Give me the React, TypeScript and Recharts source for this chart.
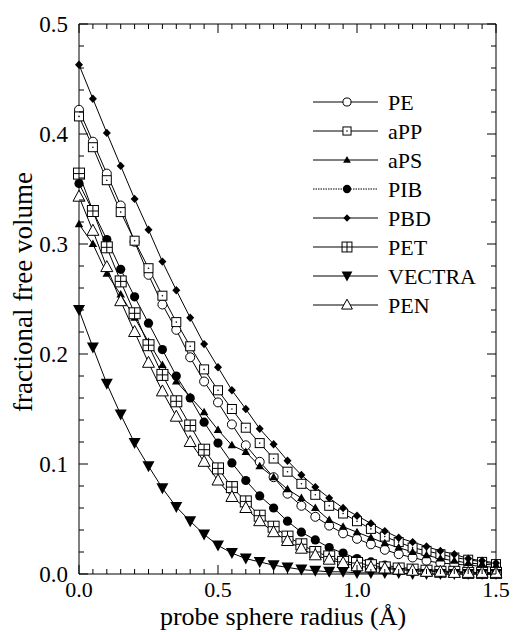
import React from 'react';
import { LineChart, Line, XAxis, YAxis } from 'recharts';

// probe sphere radius (Å)
const radius = [
  0, 0.05, 0.1, 0.15, 0.2, 0.25, 0.3, 0.35, 0.4, 0.45, 0.5, 0.55, 0.6, 0.65, 0.7, 0.75,
  0.8, 0.85, 0.9, 0.95, 1.0, 1.05, 1.1, 1.15, 1.2, 1.25, 1.3, 1.35, 1.4, 1.45, 1.5
];

// fractional free volume per polymer
const pe = [0.422, 0.393, 0.364, 0.335, 0.302, 0.272, 0.245, 0.222, 0.197, 0.175, 0.156, 0.136, 0.117, 0.102, 0.088, 0.073, 0.062, 0.052, 0.044, 0.037, 0.032, 0.027, 0.022, 0.018, 0.015, 0.012, 0.010, 0.009, 0.008, 0.007, 0.006];
const app = [0.416, 0.388, 0.358, 0.329, 0.303, 0.278, 0.253, 0.229, 0.207, 0.186, 0.167, 0.150, 0.133, 0.119, 0.105, 0.093, 0.082, 0.072, 0.062, 0.055, 0.048, 0.041, 0.034, 0.029, 0.024, 0.021, 0.018, 0.015, 0.013, 0.011, 0.009];
const aps = [0.318, 0.300, 0.273, 0.254, 0.233, 0.211, 0.190, 0.175, 0.161, 0.147, 0.131, 0.117, 0.111, 0.098, 0.088, 0.077, 0.069, 0.060, 0.049, 0.043, 0.038, 0.033, 0.028, 0.024, 0.020, 0.017, 0.014, 0.012, 0.010, 0.009, 0.008];
const pib = [0.355, 0.330, 0.304, 0.277, 0.252, 0.228, 0.204, 0.180, 0.160, 0.138, 0.119, 0.101, 0.085, 0.071, 0.060, 0.048, 0.038, 0.031, 0.024, 0.019, 0.014, 0.011, 0.008, 0.006, 0.005, 0.004, 0.003, 0.002, 0.002, 0.001, 0.001];
const pbd = [0.463, 0.432, 0.401, 0.371, 0.341, 0.313, 0.284, 0.258, 0.233, 0.209, 0.188, 0.167, 0.150, 0.132, 0.118, 0.103, 0.090, 0.079, 0.069, 0.060, 0.053, 0.046, 0.039, 0.033, 0.029, 0.025, 0.021, 0.018, 0.014, 0.012, 0.010];
const pet = [0.364, 0.330, 0.297, 0.266, 0.237, 0.208, 0.181, 0.157, 0.135, 0.113, 0.096, 0.079, 0.066, 0.053, 0.043, 0.034, 0.027, 0.020, 0.016, 0.011, 0.010, 0.008, 0.006, 0.005, 0.004, 0.003, 0.002, 0.002, 0.001, 0.001, 0.001];
const vectra = [0.240, 0.206, 0.173, 0.145, 0.119, 0.098, 0.078, 0.061, 0.048, 0.036, 0.026, 0.019, 0.014, 0.011, 0.008, 0.006, 0.004, 0.003, 0.002, 0.002, 0.001, 0.001, 0.001, 0.001, 0, 0, 0, 0, 0, 0, 0];
const pen = [0.343, 0.312, 0.279, 0.248, 0.220, 0.192, 0.166, 0.143, 0.120, 0.102, 0.085, 0.070, 0.060, 0.048, 0.038, 0.030, 0.023, 0.017, 0.013, 0.010, 0.007, 0.006, 0.005, 0.004, 0.003, 0.002, 0.002, 0.001, 0.001, 0.001, 0.001];

const seriesNames = ['PE', 'aPP', 'aPS', 'PIB', 'PBD', 'PET', 'VECTRA', 'PEN'];
const seriesValues = [pe, app, aps, pib, pbd, pet, vectra, pen];
const seriesMarkers = ['circle', 'squareDot', 'triSmall', 'disc', 'diamond', 'squarePlus', 'triDown', 'triOpen'];

const xTicks = [
  0, 0.05, 0.1, 0.15, 0.2, 0.25, 0.3, 0.35, 0.4, 0.45, 0.5, 0.55, 0.6, 0.65, 0.7, 0.75,
  0.8, 0.85, 0.9, 0.95, 1.0, 1.05, 1.1, 1.15, 1.2, 1.25, 1.3, 1.35, 1.4, 1.45, 1.5
];
const yTicks = [
  0, 0.02, 0.04, 0.06, 0.08, 0.1, 0.12, 0.14, 0.16, 0.18, 0.2, 0.22, 0.24, 0.26, 0.28,
  0.3, 0.32, 0.34, 0.36, 0.38, 0.4, 0.42, 0.44, 0.46, 0.48, 0.5
];
const xLabels = ['0.0', '0.5', '1.0', '1.5'];
const yLabels = ['0.0', '0.1', '0.2', '0.3', '0.4', '0.5'];

const data = radius.map((r, i) => {
  const row: any = { r };
  seriesNames.forEach((n, k) => (row[n] = seriesValues[k][i]));
  return row;
});

const FONT = '"Liberation Serif", "Times New Roman", serif';

function majorLabel(v: number, labels: string[]) {
  const s = v.toFixed(1);
  if (Math.abs(v - Number(s)) > 1e-9) return null;
  return labels.includes(s) ? s : null;
}

function Marker({ kind, cx, cy, s = 1 }: { kind: string; cx: number; cy: number; s?: number }) {
  const k = '#000';
  switch (kind) {
    case 'circle':
      return <circle cx={cx} cy={cy} r={4.5 * s} fill="#fff" stroke={k} strokeWidth={1} />;
    case 'squareDot':
      return (
        <g>
          <rect x={cx - 4.5 * s} y={cy - 4.5 * s} width={9 * s} height={9 * s} fill="#fff" stroke={k} strokeWidth={1} />
          <circle cx={cx} cy={cy} r={0.8} fill={k} />
        </g>
      );
    case 'triSmall':
      return <polygon points={`${cx},${cy - 4.5 * s} ${cx + 4.3 * s},${cy + 3 * s} ${cx - 4.3 * s},${cy + 3 * s}`} fill={k} />;
    case 'disc':
      return <circle cx={cx} cy={cy} r={4.6 * s} fill={k} />;
    case 'diamond':
      return <polygon points={`${cx},${cy - 4.2 * s} ${cx + 4 * s},${cy} ${cx},${cy + 4.2 * s} ${cx - 4 * s},${cy}`} fill={k} />;
    case 'squarePlus':
      return (
        <g>
          <rect x={cx - 5.5 * s} y={cy - 5.5 * s} width={11 * s} height={11 * s} fill="#fff" stroke={k} strokeWidth={1} />
          <line x1={cx} x2={cx} y1={cy - 5.5 * s} y2={cy + 5.5 * s} stroke={k} strokeWidth={1} />
          <line x1={cx - 5.5 * s} x2={cx + 5.5 * s} y1={cy} y2={cy} stroke={k} strokeWidth={1} />
        </g>
      );
    case 'triDown':
      return <polygon points={`${cx - 6 * s},${cy - 5 * s} ${cx + 6 * s},${cy - 5 * s} ${cx},${cy + 6 * s}`} fill={k} />;
    default:
      return (
        <polygon
          points={`${cx},${cy - 6.5 * s} ${cx + 6 * s},${cy + 4.5 * s} ${cx - 6 * s},${cy + 4.5 * s}`}
          fill="#fff"
          stroke={k}
          strokeWidth={1}
        />
      );
  }
}

function BottomTick(props: any) {
  const { x, y, payload } = props;
  const label = majorLabel(payload.value, xLabels);
  return (
    <g>
      <line x1={x} x2={x} y1={y} y2={y - (label ? 9 : 5)} stroke="#000" />
      {label && (
        <text x={x} y={y + 23} textAnchor="middle" fontSize={22} fontFamily={FONT} fill="#000">
          {label}
        </text>
      )}
    </g>
  );
}

function TopTick(props: any) {
  const { x, y, payload } = props;
  const label = majorLabel(payload.value, xLabels);
  return <line x1={x} x2={x} y1={y} y2={y + (label ? 9 : 5)} stroke="#000" />;
}

function LeftTick(props: any) {
  const { x, y, payload } = props;
  const label = majorLabel(payload.value, yLabels);
  return (
    <g>
      <line x1={x} x2={x + (label ? 9 : 5)} y1={y} y2={y} stroke="#000" />
      {label && (
        <text x={x - 11} y={y} dy="0.36em" textAnchor="end" fontSize={23} fontFamily={FONT} fill="#000">
          {label}
        </text>
      )}
    </g>
  );
}

function RightTick(props: any) {
  const { x, y, payload } = props;
  const label = majorLabel(payload.value, yLabels);
  return <line x1={x} x2={x - (label ? 9 : 5)} y1={y} y2={y} stroke="#000" />;
}

export default function App() {
  const axisLine = { stroke: '#000', strokeWidth: 1 };
  return (
    <div style={{ position: 'absolute', left: 0, top: 0, width: 516, height: 632, background: '#fff' }}>
      <LineChart width={516} height={632} data={data} margin={{ top: 0, right: 0, bottom: 0, left: 0 }}>
        <XAxis
          xAxisId="bottom"
          dataKey="r"
          type="number"
          domain={[0, 1.5]}
          ticks={xTicks}
          interval={0}
          height={58}
          tickSize={0}
          tickMargin={0}
          tickLine={false}
          axisLine={axisLine}
          tick={BottomTick}
        />
        <XAxis
          xAxisId="top"
          orientation="top"
          dataKey="r"
          type="number"
          domain={[0, 1.5]}
          allowDataOverflow
          ticks={xTicks}
          interval={0}
          height={24}
          tickSize={0}
          tickMargin={0}
          tickLine={false}
          axisLine={axisLine}
          tick={TopTick}
        />
        <YAxis
          yAxisId="left"
          type="number"
          domain={[0, 0.5]}
          ticks={yTicks}
          interval={0}
          width={79}
          tickSize={0}
          tickMargin={0}
          tickLine={false}
          axisLine={axisLine}
          tick={LeftTick}
        />
        <YAxis
          yAxisId="right"
          orientation="right"
          type="number"
          domain={[0, 0.5]}
          allowDataOverflow
          ticks={yTicks}
          interval={0}
          width={20}
          tickSize={0}
          tickMargin={0}
          tickLine={false}
          axisLine={axisLine}
          tick={RightTick}
        />
        {seriesNames.map((n, k) => (
          <Line
            key={n}
            xAxisId="bottom"
            yAxisId="left"
            dataKey={n}
            type="linear"
            stroke="#000"
            strokeWidth={1}
            isAnimationActive={false}
            activeDot={false}
            dot={(p: any) => <Marker key={`${n}-${p.index}`} kind={seriesMarkers[k]} cx={p.cx} cy={p.cy} />}
          />
        ))}
      </LineChart>
      <svg
        width={516}
        height={632}
        style={{ position: 'absolute', left: 0, top: 0, pointerEvents: 'none' }}
        fontFamily={FONT}
      >
        <text x={283} y={625} textAnchor="middle" fontSize={26} fill="#000">
          probe sphere radius (Å)
        </text>
        <text transform="translate(32,292) rotate(-90)" textAnchor="middle" fontSize={27} fill="#000">
          fractional free volume
        </text>
        {seriesNames.map((n, k) => {
          const yy = 102 + k * 29;
          return (
            <g key={n}>
              <line
                x1={313}
                x2={378}
                y1={yy}
                y2={yy}
                stroke="#000"
                strokeWidth={1}
                strokeDasharray={n === 'PIB' ? '1.5 1' : undefined}
              />
              <Marker kind={seriesMarkers[k]} cx={347} cy={yy} s={0.9} />
              <text x={388} y={yy} dy="0.35em" fontSize={22} fill="#000">
                {n}
              </text>
            </g>
          );
        })}
      </svg>
    </div>
  );
}
